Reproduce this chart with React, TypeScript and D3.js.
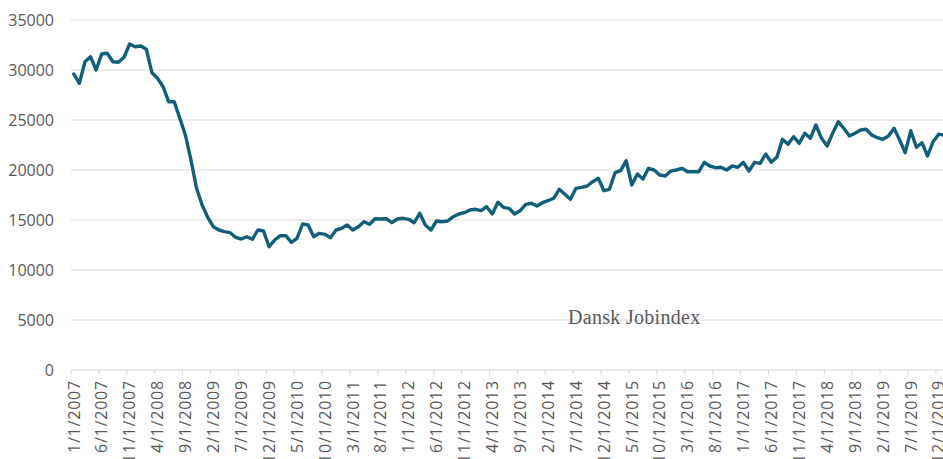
import React from "react";
import * as d3 from "d3";

const startYear = 2007;
const values: number[] = [
  29600, 28670, 30830, 31330, 30000, 31600, 31670, 30830, 30770, 31270,
  32600, 32330, 32400, 32070, 29730, 29170, 28330, 26830, 26830, 25170,
  23500, 21000, 18170, 16500, 15270, 14330, 14000, 13830, 13730, 13270,
  13100, 13330, 13070, 14000, 13900, 12330, 13000, 13430, 13430, 12770,
  13170, 14600, 14500, 13330, 13670, 13570, 13230, 14000, 14170, 14500,
  14000, 14330, 14830, 14570, 15130, 15100, 15130, 14730, 15100, 15170,
  15070, 14730, 15670, 14500, 14000, 14900, 14830, 14900, 15330, 15600,
  15730, 16000, 16070, 15930, 16330, 15600, 16770, 16270, 16170, 15600,
  15930, 16570, 16670, 16400, 16730, 16930, 17170, 18070, 17570, 17070,
  18170, 18270, 18400, 18830, 19170, 17930, 18070, 19730, 19930, 20930,
  18500, 19600, 19100, 20170, 20000, 19500, 19400, 19900, 20000, 20170,
  19830, 19830, 19830, 20770, 20400, 20230, 20270, 20000, 20400, 20270,
  20770, 19900, 20770, 20670, 21600, 20770, 21270, 23070, 22570, 23330,
  22670, 23670, 23170, 24500, 23170, 22400, 23670, 24830, 24170, 23400,
  23670, 24000, 24070, 23500, 23230, 23070, 23400, 24170, 23000, 21730,
  23930, 22270, 22730, 21400, 22830, 23570, 23500,
];
const categories: string[] = values.map((_, i) => {
  const m = (i % 12) + 1;
  const y = startYear + Math.floor(i / 12);
  return `${m}/1/${y}`;
});
const yTicks: number[] = [0, 5000, 10000, 15000, 20000, 25000, 30000, 35000];
const seriesLabel = "Dansk Jobindex";

export default function App() {
  const W = 943, H = 459;
  const left = 71;
  const step = 5.58;
  const x = d3.scaleBand<number>()
    .domain(values.map((_, i) => i))
    .range([left, left + step * values.length])
    .paddingInner(0).paddingOuter(0);
  const y = d3.scaleLinear().domain([0, 35000]).range([370, 20]);
  const line = d3.line<number>()
    .x((_, i) => (x(i) as number) + x.bandwidth() / 2)
    .y((d) => y(d));
  const tickIdx = values.map((_, i) => i).filter((i) => i % 5 === 0);
  const sans = "'Open Sans', 'Noto Sans', sans-serif";
  return (
    <div style={{ position: "fixed", left: 0, top: 0, width: W, height: H, overflow: "hidden", background: "#fff" }}>
      <svg width={W} height={H} style={{ display: "block" }}>
        <rect x={0} y={0} width={W} height={H} fill="#fff" />
        {yTicks.map((t) => (
          <g key={t}>
            <line x1={left} x2={W + 10} y1={y(t)} y2={y(t)} stroke="#d9d9d9" strokeWidth={1} />
            <text x={54} y={y(t)} dy="0.36em" textAnchor="end" fontFamily={sans} fontSize={16} fill="#595959">{t}</text>
          </g>
        ))}
        {tickIdx.map((i) => (
          <line key={"t" + i} x1={x(i) as number} x2={x(i) as number} y1={370} y2={375} stroke="#d9d9d9" strokeWidth={1} />
        ))}
        {tickIdx.map((i) => {
          const cx = (x(i) as number) + x.bandwidth() / 2;
          return (
            <text key={"l" + i} transform={`translate(${cx},380) rotate(-90)`} dy="0.36em" textAnchor="end"
              fontFamily={sans} fontSize={16} letterSpacing={0.8} fill="#595959">{categories[i]}</text>
          );
        })}
        <path d={line(values) || ""} fill="none" stroke="#135e7a" strokeWidth={3.4} strokeLinejoin="round" strokeLinecap="round" />
        <text x={568} y={324} fontFamily="'Liberation Serif', 'DejaVu Serif', serif" fontSize={20} letterSpacing={0.3} fill="#595959">{seriesLabel}</text>
      </svg>
    </div>
  );
}
